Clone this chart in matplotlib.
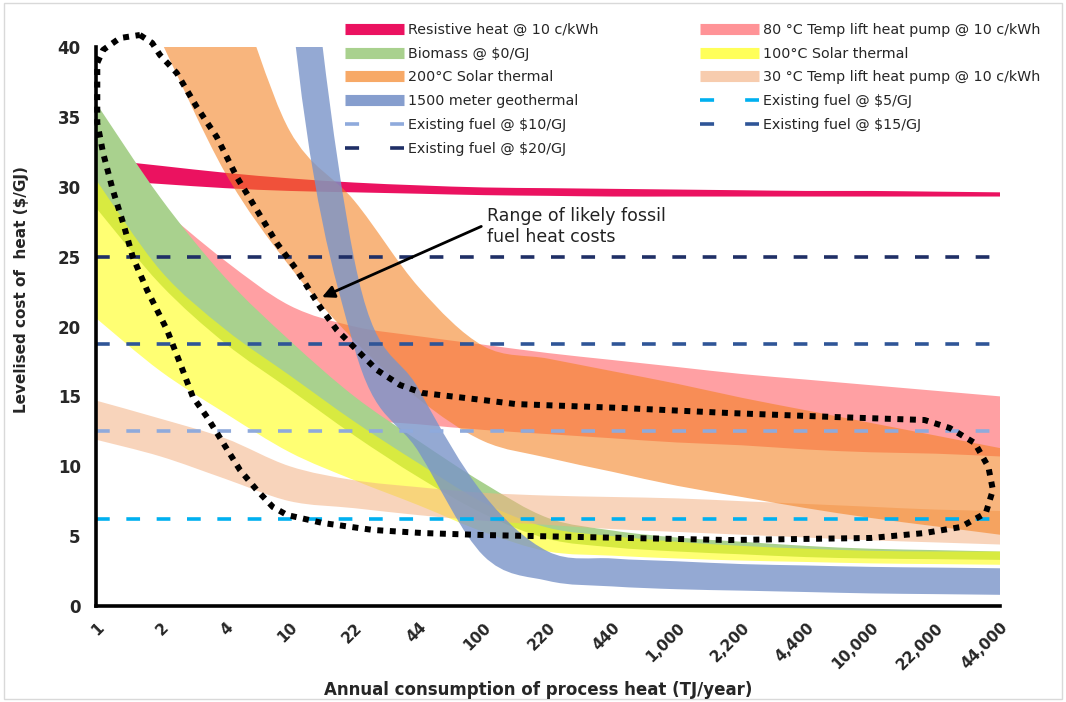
import matplotlib
matplotlib.use('Agg')
import matplotlib.pyplot as plt
import numpy as np
from matplotlib.path import Path
from matplotlib.patches import PathPatch, Rectangle
from matplotlib.lines import Line2D

plt.rcParams['font.family'] = ['DejaVu Sans']

nan = np.nan

# Annual consumption categories (TJ/year)
consumption = ['1', '2', '4', '10', '22', '44', '100', '220', '440', '1,000',
               '2,200', '4,400', '10,000', '22,000', '44,000']

# Levelised cost ranges ($/GJ): lower and upper edge of each band
resistive_lo = [30.5, 30.2, 29.9, 29.7, 29.6, 29.5, 29.4, 29.35, 29.3, 29.3, 29.3, 29.3, 29.3, 29.3, 29.3]
resistive_hi = [32.0, 31.5, 31.0, 30.6, 30.3, 30.1, 29.95, 29.9, 29.85, 29.8, 29.75, 29.7, 29.7, 29.65, 29.6]

hp80_lo = [nan, 25.0, 19.5, 15.6, 13.5, 13.0, 12.6, 12.3, 12.0, 11.7, 11.5, 11.2, 11.0, 10.9, 10.7]
hp80_hi = [nan, 28.5, 24.7, 21.5, 20.0, 19.3, 18.7, 18.1, 17.6, 17.1, 16.6, 16.2, 15.8, 15.4, 15.0]

biomass_lo = [28.5, 23.0, 18.8, 15.5, 12.2, 9.2, 6.6, 4.8, 4.2, 3.9, 3.7, 3.5, 3.4, 3.35, 3.3]
biomass_hi = [36.0, 29.2, 23.5, 19.0, 15.0, 11.8, 8.8, 6.3, 5.4, 4.9, 4.6, 4.3, 4.1, 4.0, 3.9]

solar100_lo = [20.6, 16.8, 13.8, 11.0, 9.0, 7.2, 5.3, 3.9, 3.6, 3.4, 3.25, 3.15, 3.05, 3.0, 2.95]
solar100_hi = [30.5, 24.0, 19.8, 16.5, 13.2, 10.2, 7.4, 5.6, 5.0, 4.6, 4.3, 4.1, 3.95, 3.9, 3.9]

hp30_lo = [11.9, 10.7, 9.1, 7.5, 7.0, 6.5, 6.1, 5.8, 5.5, 5.3, 5.1, 4.9, 4.7, 4.55, 4.4]
hp30_hi = [14.7, 13.4, 12.0, 10.0, 9.0, 8.5, 8.1, 7.9, 7.8, 7.7, 7.5, 7.3, 7.1, 6.9, 6.8]

solar200_lo = [nan, 40.5, 31.0, 24.3, 19.0, 14.8, 11.8, 10.6, 9.6, 8.6, 7.8, 7.0, 6.3, 5.7, 5.1]
solar200_hi = [nan, 50.0, 45.5, 34.0, 29.0, 22.8, 18.6, 17.7, 16.8, 15.9, 14.9, 14.0, 13.1, 12.2, 11.3]

geo_lo = [nan, nan, 110.0, 44.0, 18.5, 11.0, 3.6, 1.8, 1.4, 1.2, 1.1, 1.0, 0.9, 0.85, 0.8]
geo_hi = [nan, nan, 120.0, 62.0, 24.8, 15.5, 8.0, 3.9, 3.4, 3.2, 3.0, 2.9, 2.8, 2.75, 2.7]

# Existing fuel at $5, $10, $15, $20/GJ (80% boiler efficiency)
fuel_labels = ['Existing fuel @ $5/GJ', 'Existing fuel @ $10/GJ',
               'Existing fuel @ $15/GJ', 'Existing fuel @ $20/GJ']
fuel_cost = [6.25, 12.5, 18.75, 25.0]
fuel_colors = ['#00B0F0', '#8FAADC', '#2F5597', '#1F2F66']

# Hand-drawn outline around the range of likely fossil fuel heat costs
loop_x = [0.68, 0.87, 0.99, 1.25, 1.56, 1.87, 2.18, 2.49, 2.80, 3.11, 3.47, 3.73,
          4.04, 4.35, 4.71, 5.06, 5.99, 6.50, 8.14, 9.80, 11.46, 12.83, 13.22,
          13.61, 13.82, 13.89, 13.78, 13.39, 12.83, 12.01, 9.80, 5.99, 5.06,
          4.29, 3.51, 2.96, 2.74, 2.49, 2.23, 1.97, 1.72, 1.50, 1.30, 1.10,
          0.79, 0.57, 0.42, 0.26, 0.11, 0.02, 0.02, 0.02, 0.11, 0.37, 0.68]
loop_y = [40.86, 40.29, 39.43, 38.14, 35.71, 33.56, 30.70, 28.34, 25.97, 24.04,
          21.40, 19.75, 18.32, 16.89, 15.81, 15.24, 14.74, 14.45, 14.17, 13.81,
          13.52, 13.31, 12.74, 11.66, 9.95, 8.30, 6.65, 5.65, 5.22, 4.87, 4.72,
          5.08, 5.22, 5.44, 5.94, 6.51, 7.08, 8.30, 9.73, 11.66, 13.52, 14.96,
          17.39, 19.75, 22.61, 24.97, 27.41, 29.77, 32.42, 34.56, 36.92, 38.86,
          39.79, 40.64, 40.86]


def bezier_edge(x, y):
    # Catmull-Rom curve through the points, as cubic Bezier control points
    pts = np.column_stack([x, y])
    n = len(pts)
    verts = []
    for k in range(n - 1):
        p0 = pts[max(k - 1, 0)]
        p1, p2 = pts[k], pts[k + 1]
        p3 = pts[min(k + 2, n - 1)]
        verts += [p1 + (p2 - p0) / 6, p2 - (p3 - p1) / 6, p2]
    return verts


def smooth_band(ax, lo, hi, **kw):
    lo = np.asarray(lo, float)
    hi = np.asarray(hi, float)
    ok = ~np.isnan(lo)
    x = np.arange(len(lo))[ok].astype(float)
    lo, hi = lo[ok], hi[ok]
    top = bezier_edge(x, hi)
    bottom = bezier_edge(x[::-1], lo[::-1])
    verts = [(x[0], hi[0])] + top + [(x[-1], lo[-1])] + bottom + [(x[0], hi[0])]
    codes = ([Path.MOVETO] + [Path.CURVE4] * len(top) + [Path.LINETO]
             + [Path.CURVE4] * len(bottom) + [Path.CLOSEPOLY])
    ax.add_patch(PathPatch(Path(verts, codes), lw=0, **kw))


fig = plt.figure(figsize=(10.66, 7.02), dpi=100)
ax = fig.add_axes([96 / 1066, 1 - 606 / 702, 904 / 1066, 559 / 702])

bands = [
    ('80 °C Temp lift heat pump @ 10 c/kWh', hp80_lo, hp80_hi, '#FF7C80', 0.72, 1),
    ('Resistive heat @ 10 c/kWh', resistive_lo, resistive_hi, '#EB1260', 1.0, 2),
    ('Biomass @ $0/GJ', biomass_lo, biomass_hi, '#A9D18E', 1.0, 3),
    ('100°C Solar thermal', solar100_lo, solar100_hi, '#FFFF00', 0.55, 4),
    ('30 °C Temp lift heat pump @ 10 c/kWh', hp30_lo, hp30_hi, '#F4B183', 0.55, 5),
    ('200°C Solar thermal', solar200_lo, solar200_hi, '#F4801F', 0.58, 6),
    ('1500 meter geothermal', geo_lo, geo_hi, '#7994C9', 0.8, 7),
]
band_handles = {}
for label, lo, hi, color, alpha, z in bands:
    smooth_band(ax, lo, hi, facecolor=color, alpha=alpha, zorder=z)
    band_handles[label] = Line2D([], [], color=color, alpha=min(alpha + 0.1, 1),
                                 lw=8, solid_capstyle='butt')

fuel_handles = {}
for label, cost, color in zip(fuel_labels, fuel_cost, fuel_colors):
    ax.plot([0, len(consumption) - 1], [cost, cost], color=color, lw=2.6,
            dashes=(3.8, 4.6), zorder=8)
    fuel_handles[label] = Line2D([], [], color=color, lw=2.6, dashes=(3.9, 8.6))

ax.plot(loop_x, loop_y, color='black', lw=4.3, dashes=(1, 1.1),
        dash_capstyle='butt', clip_on=False, zorder=9)

ax.annotate('Range of likely fossil\nfuel heat costs', xy=(3.5, 22.1),
            xytext=(6.05, 28.55), fontsize=12.5, color='#222222', va='top',
            ha='left', linespacing=1.2, zorder=10,
            arrowprops=dict(arrowstyle='-|>', color='black', lw=2,
                            mutation_scale=18, shrinkA=0, shrinkB=0,
                            relpos=(-0.03, 0.5)))

ax.set_xlim(0, len(consumption) - 1)
ax.set_ylim(0, 40)
ax.set_xticks(range(len(consumption)))
ax.set_xticklabels(consumption, rotation=45, ha='right', rotation_mode='anchor',
                   fontsize=11, fontweight='bold', color='#262626')
ax.set_yticks(range(0, 41, 5))
ax.set_yticklabels([str(v) for v in range(0, 41, 5)], fontsize=12,
                   fontweight='bold', color='#262626')
ax.tick_params(axis='x', length=0, pad=10)
ax.tick_params(axis='y', length=0, pad=11)
for side in ('top', 'right'):
    ax.spines[side].set_visible(False)
for side in ('left', 'bottom'):
    ax.spines[side].set_linewidth(2.6)
    ax.spines[side].set_color('black')
    ax.spines[side].set_zorder(11)

fig.text(538 / 1066, 1 - 690 / 702, 'Annual consumption of process heat (TJ/year)',
         ha='center', va='center', fontsize=12, fontweight='bold', color='#262626')
fig.text(22 / 1066, 1 - 290 / 702, 'Levelised cost of  heat ($/GJ)', rotation=90,
         ha='center', va='center', fontsize=11, fontweight='bold', color='#262626')

col1 = ['Resistive heat @ 10 c/kWh', 'Biomass @ $0/GJ', '200°C Solar thermal',
        '1500 meter geothermal', 'Existing fuel @ $10/GJ', 'Existing fuel @ $20/GJ']
col2 = ['80 °C Temp lift heat pump @ 10 c/kWh', '100°C Solar thermal',
        '30 °C Temp lift heat pump @ 10 c/kWh', 'Existing fuel @ $5/GJ',
        'Existing fuel @ $15/GJ']
handles = {**band_handles, **fuel_handles}
for labels, x0 in ((col1, 345), (col2, 700)):
    leg = fig.legend([handles[l] for l in labels], labels, loc='upper left',
                     bbox_to_anchor=(x0 / 1066, 1 - 23 / 702), frameon=False,
                     fontsize=10.3, handlelength=4.1, handletextpad=0.3,
                     labelspacing=0.68, borderaxespad=0, borderpad=0)
    for t in leg.get_texts():
        t.set_color('#262626')

fig.add_artist(Rectangle((0.004, 0.004), 0.992, 0.992, transform=fig.transFigure,
                         fill=False, edgecolor='#D9D9D9', lw=1))

fig.savefig('out.png', dpi=100)
